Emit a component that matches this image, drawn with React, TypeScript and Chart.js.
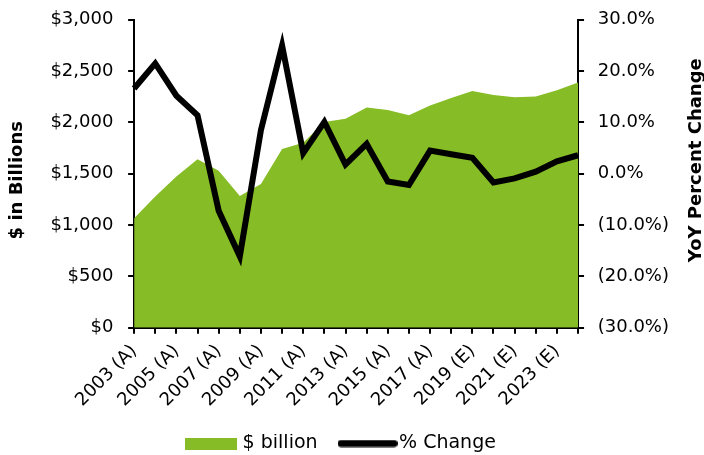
import React, { useEffect, useRef } from 'react';
import { Chart, registerables } from 'chart.js';

Chart.register(...registerables);

const categories = [
  '2003 (A)', '2004 (A)', '2005 (A)', '2006 (A)', '2007 (A)', '2008 (A)',
  '2009 (A)', '2010 (A)', '2011 (A)', '2012 (A)', '2013 (A)', '2014 (A)',
  '2015 (A)', '2016 (A)', '2017 (A)', '2018 (A)', '2019 (E)', '2020 (E)',
  '2021 (E)', '2022 (E)', '2023 (E)', '2024 (E)',
];

const billions = [
  1065, 1278, 1472, 1641, 1530, 1284, 1401, 1741, 1802, 2003, 2035,
  2145, 2120, 2071, 2165, 2239, 2307, 2268, 2246, 2252, 2314, 2388,
];

const pctChange = [
  16.6, 21.5, 15.2, 11.4, -7.2, -16.1, 8.5, 25.0, 4.0, 10.1, 1.8,
  5.8, -1.5, -2.2, 4.5, 3.8, 3.1, -1.7, -0.9, 0.4, 2.4, 3.6,
];

const leftTitle = '$ in Billions';
const rightTitle = 'YoY Percent Change';
const seriesNames = ['$ billion', '% Change'];

const GREEN = '#86BC25';
const FONT = "'DejaVu Sans', Verdana, sans-serif";

const axisTitlesPlugin = {
  id: 'axisTitles',
  afterDraw(chart: any) {
    const ca = chart.chartArea;
    const mid = (ca.top + ca.bottom) / 2;
    const ctx = chart.ctx;
    ctx.save();
    ctx.font = `bold 18px ${FONT}`;
    ctx.fillStyle = '#000';
    ctx.textAlign = 'center';
    ctx.textBaseline = 'middle';
    ctx.save();
    ctx.translate(17.5, mid + 6.5);
    ctx.rotate(-Math.PI / 2);
    ctx.fillText(leftTitle, 0, 0);
    ctx.restore();
    ctx.save();
    ctx.translate(chart.width - 7.5, mid - 13.5);
    ctx.rotate(-Math.PI / 2);
    ctx.fillText(rightTitle, 0, 0);
    ctx.restore();
    ctx.restore();
  },
};

function makeRectSwatch(): HTMLCanvasElement {
  const c = document.createElement('canvas');
  c.width = 52;
  c.height = 12;
  const g = c.getContext('2d')!;
  g.fillStyle = GREEN;
  g.fillRect(0, 0, 52, 12);
  return c;
}

function makeLineSwatch(): HTMLCanvasElement {
  const c = document.createElement('canvas');
  c.width = 60;
  c.height = 8;
  const g = c.getContext('2d')!;
  g.strokeStyle = '#000';
  g.lineWidth = 7;
  g.lineCap = 'round';
  g.beginPath();
  g.moveTo(3.5, 4);
  g.lineTo(56.5, 4);
  g.stroke();
  return c;
}

export default function App() {
  const ref = useRef<HTMLCanvasElement>(null);

  useEffect(() => {
    if (!ref.current) return;
    const rectSwatch = makeRectSwatch();
    const lineSwatch = makeLineSwatch();
    const chart = new Chart(ref.current, {
      type: 'line',
      data: {
        labels: categories,
        datasets: [
          {
            label: seriesNames[0],
            data: billions,
            yAxisID: 'y',
            fill: 'origin',
            backgroundColor: GREEN,
            borderColor: GREEN,
            borderWidth: 0,
            pointRadius: 0,
            tension: 0,
            order: 1,
          },
          {
            label: seriesNames[1],
            data: pctChange,
            yAxisID: 'y1',
            fill: false,
            borderColor: '#000',
            backgroundColor: '#000',
            borderWidth: 6,
            pointRadius: 0,
            tension: 0,
            borderJoinStyle: 'miter',
            order: 0,
          },
        ],
      },
      options: {
        animation: false,
        responsive: true,
        maintainAspectRatio: false,
        layout: { padding: { left: 8, right: 27, top: 19, bottom: -8 } },
        plugins: {
          tooltip: { enabled: false },
          legend: {
            position: 'bottom',
            labels: {
              font: { family: FONT, size: 19 },
              color: '#000',
              usePointStyle: true,
              pointStyleWidth: 44,
              boxHeight: 12,
              padding: 0,
              generateLabels: (c: any) => {
                const items = Chart.defaults.plugins.legend.labels.generateLabels(c);
                items.sort((a: any, b: any) => a.datasetIndex - b.datasetIndex);
                return items.map((it: any) => {
                  if (it.datasetIndex === 0) {
                    return { ...it, text: it.text + '    \u2009', pointStyle: rectSwatch, lineWidth: 0 };
                  }
                  return { ...it, pointStyle: lineSwatch, lineWidth: 0 };
                });
              },
            },
          },
        },
        scales: {
          x: {
            offset: false,
            grid: {
              display: true,
              drawOnChartArea: false,
              color: '#000',
              lineWidth: 2,
              tickLength: 6,
            },
            border: { display: true, color: '#000', width: 2 },
            ticks: {
              autoSkip: false,
              maxRotation: 45,
              minRotation: 45,
              color: '#000',
              font: { family: FONT, size: 18 },
              padding: 7,
              callback: (_v: any, i: number) => (i % 2 === 0 ? categories[i] : ''),
            },
            title: {
              display: true,
              text: ' ',
              color: 'rgba(0,0,0,0)',
              font: { family: FONT, size: 10 },
              padding: { top: 2, bottom: 2 },
            },
          },
          y: {
            position: 'left',
            min: 0,
            max: 3000,
            grid: {
              display: true,
              drawOnChartArea: false,
              color: '#000',
              lineWidth: 2,
              tickLength: 6,
            },
            border: { display: true, color: '#000', width: 2 },
            ticks: {
              stepSize: 500,
              color: '#000',
              font: { family: FONT, size: 18 },
              padding: 9,
              callback: (v: any) => '$' + Number(v).toLocaleString('en-US') + ' ',
            },
            title: {
              display: true,
              text: leftTitle,
              color: 'rgba(0,0,0,0)',
              font: { family: FONT, size: 17, weight: 'bold' },
              padding: { top: 0, bottom: 13 },
            },
          },
          y1: {
            position: 'right',
            min: -30,
            max: 30,
            grid: {
              display: true,
              drawOnChartArea: false,
              color: '#000',
              lineWidth: 2,
              tickLength: 6,
            },
            border: { display: true, color: '#000', width: 2 },
            ticks: {
              stepSize: 10,
              color: '#000',
              font: { family: FONT, size: 18 },
              padding: 8,
              callback: (v: any) => {
                const n = Number(v);
                const s = Math.abs(n).toFixed(1) + '%';
                return ' ' + (n < 0 ? '(' + s + ')' : s);
              },
            },
          },
        },
      },
      plugins: [axisTitlesPlugin],
    } as any);
    return () => chart.destroy();
  }, []);

  return (
    <div style={{ position: 'fixed', left: 0, top: 0, width: 704, height: 455, background: '#fff' }}>
      <canvas ref={ref} />
    </div>
  );
}
